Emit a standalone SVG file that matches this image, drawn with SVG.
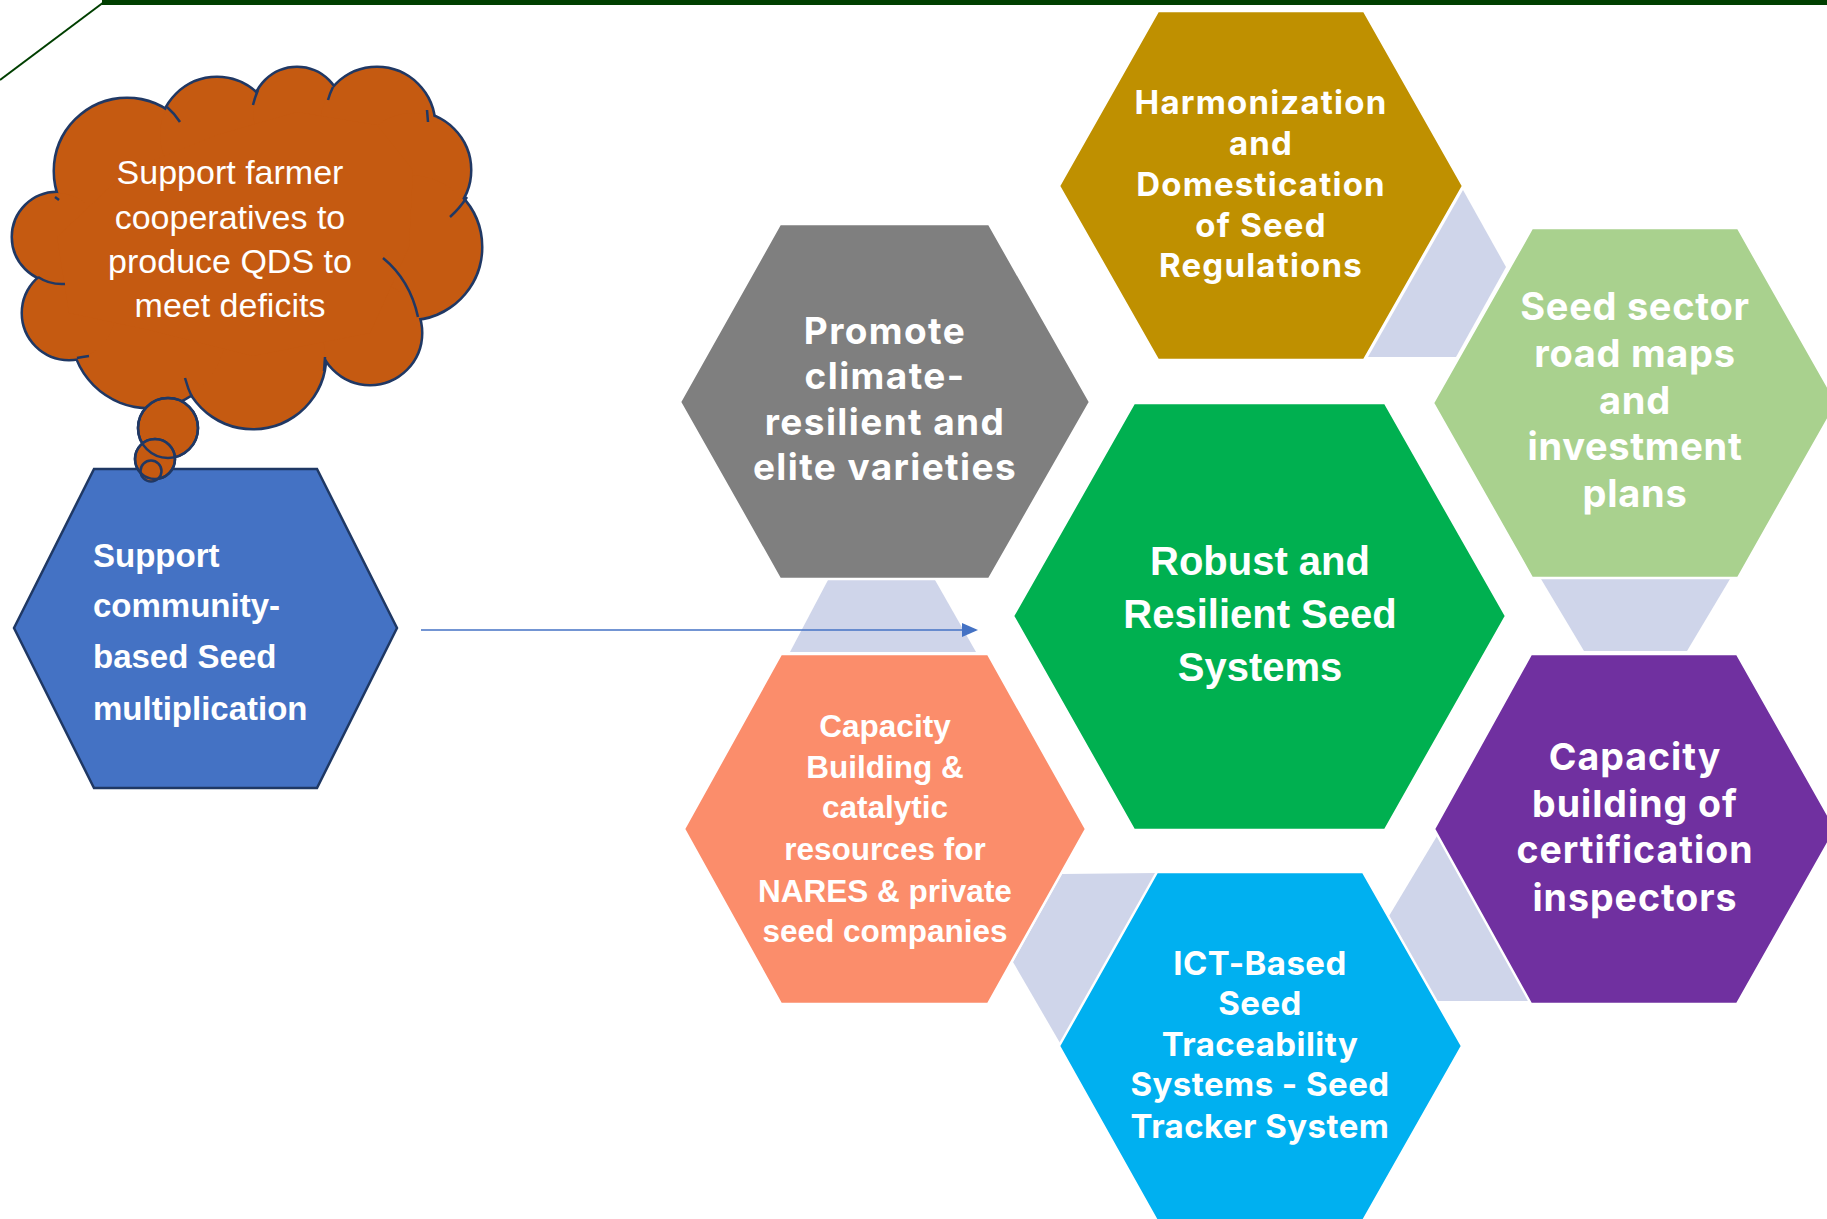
<svg xmlns="http://www.w3.org/2000/svg" width="1827" height="1219" viewBox="0 0 1827 1219">
<defs>
<style>
.hx{stroke:#ffffff;stroke-width:2.5}
.lav{fill:#cfd5ea}
.t{fill:#ffffff;text-anchor:middle}
.cal{font-family:"Liberation Sans",Arial,sans-serif;font-weight:bold}
.ops{font-family:Inter,"Open Sans",sans-serif;font-weight:bold}
.cs{fill:none;stroke:#203864;stroke-width:5}
.cf{fill:#c55a11}
.mk{fill:none;stroke:#203864;stroke-width:2.5}
</style>
<marker id="ah" markerWidth="16" markerHeight="14" refX="14" refY="7" orient="auto" markerUnits="userSpaceOnUse">
<polygon points="0,0 16,7 0,14" fill="#4472c4"/>
</marker>
</defs>
<rect width="1827" height="1219" fill="#ffffff"/>
<g id="frame-line">
<rect x="102" y="0" width="1725" height="5" fill="#003f00"/>
<line x1="0" y1="80" x2="104" y2="2" stroke="#003f00" stroke-width="2"/>
</g>
<g id="node-community">
<polygon points="94,469 317,469 397,628 317,788 94,788 14,628" fill="#4472c4" stroke="#1f3864" stroke-width="2.5"/>
<text class="cal" fill="#ffffff" font-size="33" x="93"><tspan x="93" y="567">Support</tspan><tspan x="93" y="617">community-</tspan><tspan x="93" y="668">based Seed</tspan><tspan x="93" y="720">multiplication</tspan></text>
</g>
<g id="node-cloud">
<g class="cs">
<circle cx="127" cy="171" r="72"/>
<circle cx="217" cy="135" r="57"/>
<circle cx="297" cy="112" r="44"/>
<circle cx="377" cy="125" r="57"/>
<circle cx="413" cy="170" r="57"/>
<circle cx="409" cy="247" r="72"/>
<circle cx="370" cy="333" r="51"/>
<circle cx="253" cy="356" r="72"/>
<circle cx="149" cy="330" r="77"/>
<circle cx="69" cy="313" r="46"/>
<circle cx="57" cy="237" r="44"/>
</g>
<g class="cf">
<circle cx="127" cy="171" r="72"/>
<circle cx="217" cy="135" r="57"/>
<circle cx="297" cy="112" r="44"/>
<circle cx="377" cy="125" r="57"/>
<circle cx="413" cy="170" r="57"/>
<circle cx="409" cy="247" r="72"/>
<circle cx="370" cy="333" r="51"/>
<circle cx="253" cy="356" r="72"/>
<circle cx="149" cy="330" r="77"/>
<circle cx="69" cy="313" r="46"/>
<circle cx="57" cy="237" r="44"/>
<polygon points="127,171 217,135 297,112 377,125 413,170 409,247 370,333 253,356 149,330 69,313 57,237"/>
</g>
<g class="mk">
<path d="M38,277 Q50,285 65,284"/>
<path d="M77,358 Q82,357 89,356"/>
<path d="M185,378 Q188,389 192,397"/>
<path d="M325,357 L324,371"/>
<path d="M383,258 Q410,280 418,317"/>
<path d="M450,217 Q460,208 467,197"/>
<path d="M428,122 L427,110"/>
<path d="M328,100 Q330,93 333,87"/>
<path d="M253,105 Q255,97 258,90"/>
<path d="M167,107 Q175,114 180,122"/>
<path d="M55,197 L59,200"/>
</g>
<text class="t" font-family="Liberation Sans, Arial, sans-serif" font-size="34"><tspan x="230" y="184">Support farmer</tspan><tspan x="230" y="229">cooperatives to</tspan><tspan x="230" y="273">produce QDS to</tspan><tspan x="230" y="317">meet deficits</tspan></text>
<g fill="#c55a11" stroke="#203864" stroke-width="2.5">
<circle cx="168" cy="428" r="30"/>
<circle cx="155" cy="459" r="20"/>
<circle cx="151" cy="471" r="10.5"/>
</g>
<g fill="none" stroke="#203864" stroke-width="2.5">
<circle cx="168" cy="428" r="30"/>
<circle cx="155" cy="459" r="20"/>
</g>
</g>
<g id="connectors">
<polygon class="lav" points="828,580 935,580 976,652 790,652"/>
<polygon class="lav" points="1463,190 1506,267 1456,357 1368,357"/>
<polygon class="lav" points="1541,579 1730,579 1687,651 1584,651"/>
<polygon class="lav" points="1437,836 1389,916 1437,1001 1529,1001"/>
<polygon class="lav" points="1062,874 1157,873 1060,1043 1013,962"/>
</g>
<g id="node-harmonization">
<polygon class="hx" points="1158,11 1364,11 1463,186 1364,360 1158,360 1059,186" fill="#bf9000"/>
<text class="t ops" font-size="33" letter-spacing="1.2"><tspan x="1261" y="114">Harmonization</tspan><tspan x="1261" y="155">and</tspan><tspan x="1261" y="196">Domestication</tspan><tspan x="1261" y="237">of Seed</tspan><tspan x="1261" y="277">Regulations</tspan></text>
</g>
<g id="node-promote">
<polygon class="hx" points="780,224 989,224 1090,402 989,579 780,579 680,402" fill="#7f7f7f"/>
<text class="t ops" font-size="37" letter-spacing="1.4"><tspan x="885" y="344">Promote</tspan><tspan x="885" y="389">climate-</tspan><tspan x="885" y="435">resilient and</tspan><tspan x="885" y="480">elite varieties</tspan></text>
</g>
<g id="node-center">
<polygon class="hx" points="1134,403 1385,403 1506,616 1385,830 1134,830 1013,616" fill="#00b050"/>
<text class="t cal" font-size="40"><tspan x="1260" y="575">Robust and</tspan><tspan x="1260" y="628">Resilient Seed</tspan><tspan x="1260" y="681">Systems</tspan></text>
</g>
<g id="node-roadmaps">
<polygon class="hx" points="1532,228 1738,228 1837,403 1738,578 1532,578 1433,403" fill="#a9d18e"/>
<text class="t ops" font-size="38" letter-spacing="0.7"><tspan x="1635" y="320">Seed sector</tspan><tspan x="1635" y="367">road maps</tspan><tspan x="1635" y="414">and</tspan><tspan x="1635" y="460">investment</tspan><tspan x="1635" y="507">plans</tspan></text>
</g>
<g id="node-inspectors">
<polygon class="hx" points="1531,654 1737,654 1836,829 1737,1004 1531,1004 1434,829" fill="#7030a0"/>
<text class="t ops" font-size="37.5" letter-spacing="1"><tspan x="1635" y="770">Capacity</tspan><tspan x="1635" y="817">building of</tspan><tspan x="1635" y="863">certification</tspan><tspan x="1635" y="911">inspectors</tspan></text>
</g>
<g id="node-nares">
<polygon class="hx" points="781,654 988,654 1086,829 988,1004 781,1004 684,829" fill="#fb8d6b"/>
<text class="t cal" font-size="31.5"><tspan x="885" y="737">Capacity</tspan><tspan x="885" y="778">Building &amp;</tspan><tspan x="885" y="818">catalytic</tspan><tspan x="885" y="860">resources for</tspan><tspan x="885" y="902">NARES &amp; private</tspan><tspan x="885" y="942">seed companies</tspan></text>
</g>
<g id="node-ict">
<polygon class="hx" points="1157,872 1363,872 1462,1046 1363,1221 1157,1221 1059,1046" fill="#00b0f0"/>
<text class="t ops" font-size="33" letter-spacing="0.45"><tspan x="1260" y="975">ICT-Based</tspan><tspan x="1260" y="1015">Seed</tspan><tspan x="1260" y="1056">Traceability</tspan><tspan x="1260" y="1096">Systems - Seed</tspan><tspan x="1260" y="1138">Tracker System</tspan></text>
</g>
<g id="arrow-connector">
<line x1="421" y1="630" x2="976" y2="630" stroke="#4472c4" stroke-width="1.5" marker-end="url(#ah)"/>
</g>
</svg>
